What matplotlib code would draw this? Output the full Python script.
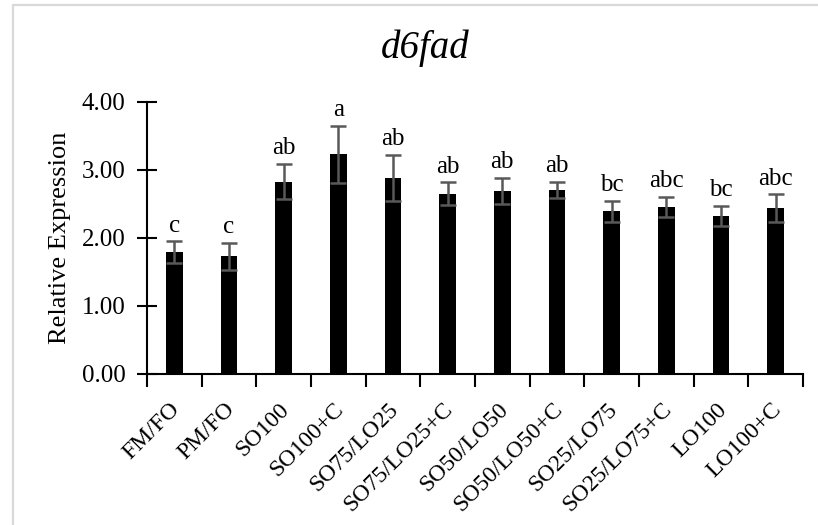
import matplotlib
matplotlib.use("Agg")
import matplotlib.pyplot as plt
import matplotlib.transforms as mtransforms
from matplotlib.patches import Rectangle
import numpy as np

plt.rcParams['font.family'] = ['Liberation Serif', 'DejaVu Serif']

# Diet groups, mean relative expression, standard error and significance letters
groups = ["FM/FO", "PM/FO", "SO100", "SO100+C", "SO75/LO25", "SO75/LO25+C",
          "SO50/LO50", "SO50/LO50+C", "SO25/LO75", "SO25/LO75+C", "LO100", "LO100+C"]
means = [1.79, 1.73, 2.83, 3.23, 2.88, 2.65, 2.69, 2.71, 2.39, 2.46, 2.32, 2.44]
errors = [0.16, 0.20, 0.26, 0.42, 0.34, 0.17, 0.19, 0.12, 0.155, 0.15, 0.15, 0.20]
letters = ["c", "c", "ab", "a", "ab", "ab", "ab", "ab", "bc", "abc", "bc", "abc"]
yticks = [0.0, 1.0, 2.0, 3.0, 4.0]

W, H = 818, 525
fig = plt.figure(figsize=(W / 100, H / 100), dpi=100)
ax = fig.add_axes([147 / W, 1 - 374 / H, (803 - 147) / W, (374 - 102) / H])

x = np.arange(len(groups))
ax.bar(x, means, width=0.3, color="black", zorder=2)
ax.errorbar(x, means, yerr=errors, fmt="none", ecolor="#595959",
            elinewidth=1.8, capsize=6, capthick=1.8, zorder=3)

for xi, m, e, lab in zip(x, means, errors, letters):
    ax.annotate(lab, (xi, m + e), xytext=(0, 7), textcoords="offset points",
                ha="center", va="baseline", fontsize=18)

ax.set_xlim(-0.5, len(groups) - 0.5)
ax.set_ylim(0, 4)
ax.set_yticks(yticks)
ax.set_yticklabels([f"{v:.2f}" for v in yticks], fontsize=18)
ax.set_xticks(np.arange(len(groups) + 1) - 0.5, minor=False)
ax.set_xticklabels([])
ax.set_xticks(x, minor=True)
ax.set_xticklabels(groups, minor=True, rotation=45, ha="right", va="top",
                   rotation_mode="anchor", fontsize=17)
ax.tick_params(axis="x", which="major", direction="out", length=9, width=1.5)
ax.tick_params(axis="x", which="minor", length=0, pad=0)
ax.tick_params(axis="y", direction="inout", length=15, width=1.5, pad=8)

offset = mtransforms.ScaledTranslation(-0.05, -0.25, fig.dpi_scale_trans)
for lbl in ax.get_xticklabels(minor=True):
    lbl.set_transform(lbl.get_transform() + offset)

for side in ("top", "right"):
    ax.spines[side].set_visible(False)
for side in ("left", "bottom"):
    ax.spines[side].set_linewidth(1.5)

ax.set_ylabel("Relative Expression", fontsize=19, labelpad=8)

fig.text(425 / W, 1 - 58 / H, "d6fad", ha="center", va="baseline",
         fontsize=28, style="italic")

fig.add_artist(Rectangle((13 / W, -0.1), 1.2, (H - 5) / H + 0.1,
                         transform=fig.transFigure, fill=False,
                         ec="#d9d9d9", lw=1.6))

fig.savefig("out.png", dpi=100)
